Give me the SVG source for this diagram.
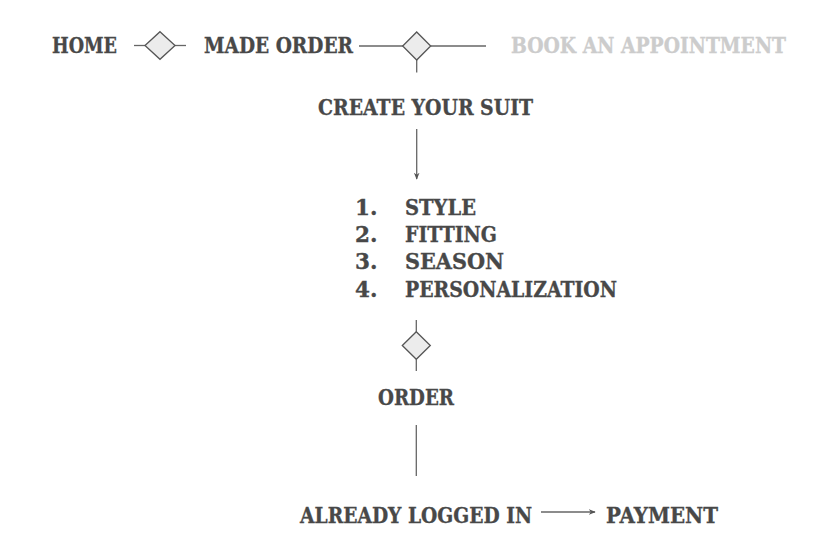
<svg xmlns="http://www.w3.org/2000/svg" width="839" height="559" viewBox="0 0 839 559">
<style>
.t{font-family:"DejaVu Serif","Liberation Serif",serif;font-weight:bold;font-size:21.5px;fill:#484848;stroke:#484848;stroke-width:0.35}
.g{fill:#cccccc;stroke:#cccccc}
.c{stroke:#666;stroke-width:1.3;fill:none}
.d{fill:#ececec;stroke:#555;stroke-width:1.3}
</style>
<defs>
<marker id="ah" viewBox="0 0 10 10" refX="9" refY="5" markerWidth="7" markerHeight="7" markerUnits="userSpaceOnUse" orient="auto">
<path d="M0,1 L10,5 L0,9 L3,5 Z" fill="#555"/>
</marker>
</defs>
<rect width="839" height="559" fill="#fff"/>
<g id="connectors">
<line class="c" x1="134" y1="45.5" x2="145" y2="45.5"/>
<line class="c" x1="175" y1="45.5" x2="186" y2="45.5"/>
<line class="c" x1="359" y1="46" x2="403" y2="46"/>
<line class="c" x1="431" y1="46" x2="486" y2="46"/>
<line class="c" x1="416.7" y1="60" x2="416.7" y2="72.5"/>
<line class="c" x1="416.7" y1="129" x2="416.7" y2="179" marker-end="url(#ah)"/>
<line class="c" x1="416.3" y1="320" x2="416.3" y2="331.7"/>
<line class="c" x1="416.3" y1="359.3" x2="416.3" y2="371"/>
<line class="c" x1="416.3" y1="425" x2="416.3" y2="476"/>
<line class="c" x1="541" y1="512" x2="595" y2="512" marker-end="url(#ah)"/>
</g>
<g id="home"><text class="t" x="52" y="53" textLength="65" lengthAdjust="spacingAndGlyphs">HOME</text></g>
<g id="diamond1"><path class="d" d="M160,31.7 L175,45.5 L160,59.3 L145,45.5 Z"/></g>
<g id="made-order"><text class="t" x="204" y="53" textLength="149" lengthAdjust="spacingAndGlyphs">MADE ORDER</text></g>
<g id="diamond2"><path class="d" d="M416.7,32 L430.7,46 L416.7,60 L402.7,46 Z"/></g>
<g id="book"><text class="t g" x="511" y="53" textLength="275" lengthAdjust="spacingAndGlyphs">BOOK AN APPOINTMENT</text></g>
<g id="create-suit"><text class="t" x="318" y="115" textLength="215" lengthAdjust="spacingAndGlyphs">CREATE YOUR SUIT</text></g>
<g id="steps">
<text class="t" x="355" y="215">1.</text><text class="t" x="405" y="215" textLength="71" lengthAdjust="spacingAndGlyphs">STYLE</text>
<text class="t" x="355" y="242.2">2.</text><text class="t" x="405" y="242.2" textLength="92" lengthAdjust="spacingAndGlyphs">FITTING</text>
<text class="t" x="355" y="269.4">3.</text><text class="t" x="405" y="269.4" textLength="99" lengthAdjust="spacingAndGlyphs">SEASON</text>
<text class="t" x="355" y="296.6">4.</text><text class="t" x="405" y="296.6" textLength="212" lengthAdjust="spacingAndGlyphs">PERSONALIZATION</text>
</g>
<g id="diamond3"><path class="d" d="M416.3,331.7 L430.3,345.5 L416.3,359.3 L402.3,345.5 Z"/></g>
<g id="order"><text class="t" x="378" y="405" textLength="76" lengthAdjust="spacingAndGlyphs">ORDER</text></g>
<g id="logged-in"><text class="t" x="300" y="523.3" textLength="232" lengthAdjust="spacingAndGlyphs">ALREADY LOGGED IN</text></g>
<g id="payment"><text class="t" x="606" y="523.3" textLength="112" lengthAdjust="spacingAndGlyphs">PAYMENT</text></g>
</svg>
